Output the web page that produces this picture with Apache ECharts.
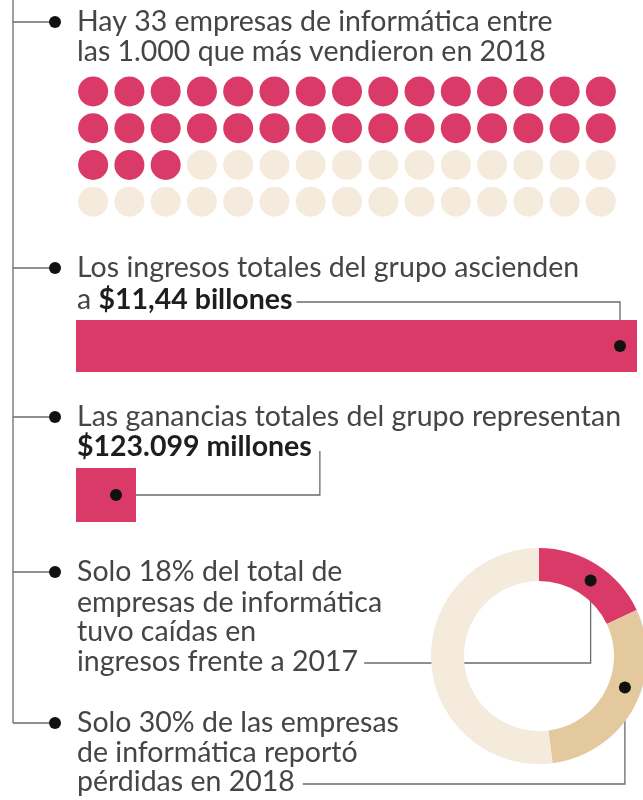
<!DOCTYPE html>
<html lang="es">
<head>
  <meta charset="utf-8">
</head>
<body style="margin: 0; background: #fff">
  <div id="container" style="width: 643px; height: 800px"></div>
  <script type="text/javascript" src="https://cdn.jsdelivr.net/npm/echarts@6/dist/echarts.min.js"></script>
  <script type="text/javascript">
    // datos
    var empresasInformatica = 33;   // empresas de informática en el top 1.000
    var puntosTotales = 60;         // casillas del gráfico de puntos
    var columnasPuntos = 15;
    var ingresosBillones = 11.44;   // $11,44 billones
    var gananciasMillones = 123099; // $123.099 millones
    var donaNombres = ['Caídas en ingresos', 'Pérdidas', 'Resto'];
    var donaValores = [18, 30, 52];

    var rosa = '#d93a68';
    var crema = '#f4ebdd';
    var arena = '#e4c99e';
    var donaColores = [rosa, arena, crema];

    var fuente = 'Lato';
    var tam = 28.5;
    var pesoNormal = 400;
    var gris = '#454545';
    var oscuro = '#1e1e1e';
    var lineaColor = '#6b6b6b';

    var dom = document.getElementById('container');
    var myChart = echarts.init(dom, null, { renderer: 'canvas' });

    var puntos = [];
    for (var i = 0; i < puntosTotales; i++) {
      puntos.push({
        value: [i % columnasPuntos, Math.floor(i / columnasPuntos)],
        itemStyle: { color: i < empresasInformatica ? rosa : crema, opacity: 1 }
      });
    }

    var donaCentro = [539, 656];
    var donaRadio = [75, 108];

    var option = {
      animation: false,
      grid: [
        { left: 75, top: 73, width: 544, height: 147 },
        { left: 76, top: 320, width: 561, height: 52 },
        { left: 76, top: 468, width: 60, height: 54 }
      ],
      xAxis: [
        { gridIndex: 0, type: 'value', min: -0.5, max: 14.5, show: false },
        { gridIndex: 1, type: 'value', min: 0, max: ingresosBillones, show: false },
        { gridIndex: 2, type: 'value', min: 0, max: gananciasMillones, show: false }
      ],
      yAxis: [
        { gridIndex: 0, type: 'value', min: -0.5, max: 3.5, inverse: true, show: false },
        { gridIndex: 1, type: 'category', data: ['ingresos'], show: false },
        { gridIndex: 2, type: 'category', data: ['ganancias'], show: false }
      ],
      series: [
        {
          type: 'scatter', xAxisIndex: 0, yAxisIndex: 0,
          symbolSize: 30, data: puntos, silent: true,
          itemStyle: { opacity: 1 }
        },
        {
          type: 'bar', xAxisIndex: 1, yAxisIndex: 1, barWidth: '100%',
          data: [ingresosBillones], itemStyle: { color: rosa }, silent: true
        },
        {
          type: 'bar', xAxisIndex: 2, yAxisIndex: 2, barWidth: '100%',
          data: [gananciasMillones], itemStyle: { color: rosa }, silent: true
        },
        {
          type: 'pie', center: donaCentro, radius: donaRadio,
          startAngle: 90, clockwise: true, silent: true,
          label: { show: false }, labelLine: { show: false },
          itemStyle: { borderWidth: 0 },
          data: donaValores.map(function (v, k) {
            return { name: donaNombres[k], value: v, itemStyle: { color: donaColores[k] } };
          })
        }
      ]
    };
    myChart.setOption(option);

    // medir textos para arrancar los conectores justo después
    var ctx = document.createElement('canvas').getContext('2d');
    function ancho(txt, peso) {
      ctx.font = peso + ' ' + tam + 'px ' + fuente;
      return ctx.measureText(txt).width;
    }

    // punto de anclaje dentro de una porción de la dona
    function anclaDona(k, frac) {
      var total = donaValores.reduce(function (a, b) { return a + b; }, 0);
      var acum = 0;
      for (var j = 0; j < k; j++) acum += donaValores[j];
      var ang = (acum + donaValores[k] * frac) / total * 2 * Math.PI;
      var r = (donaRadio[0] + donaRadio[1]) / 2;
      return [donaCentro[0] + r * Math.sin(ang), donaCentro[1] - r * Math.cos(ang)];
    }

    var xTexto = 77;
    var xViñeta = 55;
    var els = [];

    function linea(puntosLinea) {
      els.push({
        type: 'polyline', silent: true,
        shape: { points: puntosLinea },
        style: { stroke: lineaColor, lineWidth: 1.3, fill: null }
      });
    }
    function bolita(p) {
      els.push({
        type: 'circle', silent: true, z: 10,
        shape: { cx: p[0], cy: p[1], r: 6 },
        style: { fill: '#111' }
      });
    }
    function texto(y, partes) {
      var rich = {
        n: { fontFamily: fuente, fontSize: tam, fontWeight: pesoNormal, fill: gris },
        b: { fontFamily: fuente, fontSize: tam, fontWeight: 'bold', fill: oscuro }
      };
      var t = partes.map(function (p) {
        return '{' + (p[1] ? 'b' : 'n') + '|' + p[0] + '}';
      }).join('');
      els.push({
        type: 'text', x: xTexto, y: y, silent: true,
        style: { text: t, rich: rich, verticalAlign: 'middle', align: 'left' }
      });
      return partes.reduce(function (a, p) { return a + ancho(p[0], p[1] ? 'bold' : pesoNormal); }, 0);
    }

    var viñetas = [22, 268, 417, 572, 723];
    linea([[13, 0], [13, viñetas[4]]]);
    viñetas.forEach(function (y) {
      linea([[13, y], [xViñeta, y]]);
      bolita([xViñeta, y]);
    });

    // bloque 1
    texto(22, [['Hay 33 empresas de informática entre']]);
    texto(52, [['las 1.000 que más vendieron en 2018']]);

    // bloque 2
    texto(268, [['Los ingresos totales del grupo ascienden']]);
    var w2 = texto(300, [['a '], ['$11,44 billones', true]]);
    var finBarra = myChart.convertToPixel({ gridIndex: 1 }, [ingresosBillones, 0]);
    var p2 = [finBarra[0] - 17, finBarra[1]];
    linea([[xTexto + w2 + 4, 302], [p2[0], 302], p2]);
    bolita(p2);

    // bloque 3
    texto(417, [['Las ganancias totales del grupo representan']]);
    var w3 = texto(447, [['$123.099 millones', true]]);
    var finCuadro = myChart.convertToPixel({ gridIndex: 2 }, [gananciasMillones, 0]);
    var p3 = [finCuadro[0] - 20, finCuadro[1]];
    var x3 = xTexto + w3 + 8;
    linea([[x3, 451], [x3, p3[1]], p3]);
    bolita(p3);

    // bloque 4
    texto(572, [['Solo 18% del total de']]);
    texto(603, [['empresas de informática']]);
    texto(632, [['tuvo caídas en']]);
    var w4 = texto(662, [['ingresos frente a 2017']]);
    var p4 = anclaDona(0, 0.53);
    linea([[xTexto + w4 + 6, 663], [p4[0], 663], p4]);
    bolita(p4);

    // bloque 5
    texto(723, [['Solo 30% de las empresas']]);
    texto(753, [['de informática reportó']]);
    var w5 = texto(782, [['pérdidas en 2018']]);
    var p5 = anclaDona(1, 0.42);
    linea([[xTexto + w5 + 8, 784], [p5[0], 784], p5]);
    bolita(p5);

    myChart.setOption({ graphic: { elements: els } });

    window.addEventListener('resize', myChart.resize);
  </script>
</body>
</html>
